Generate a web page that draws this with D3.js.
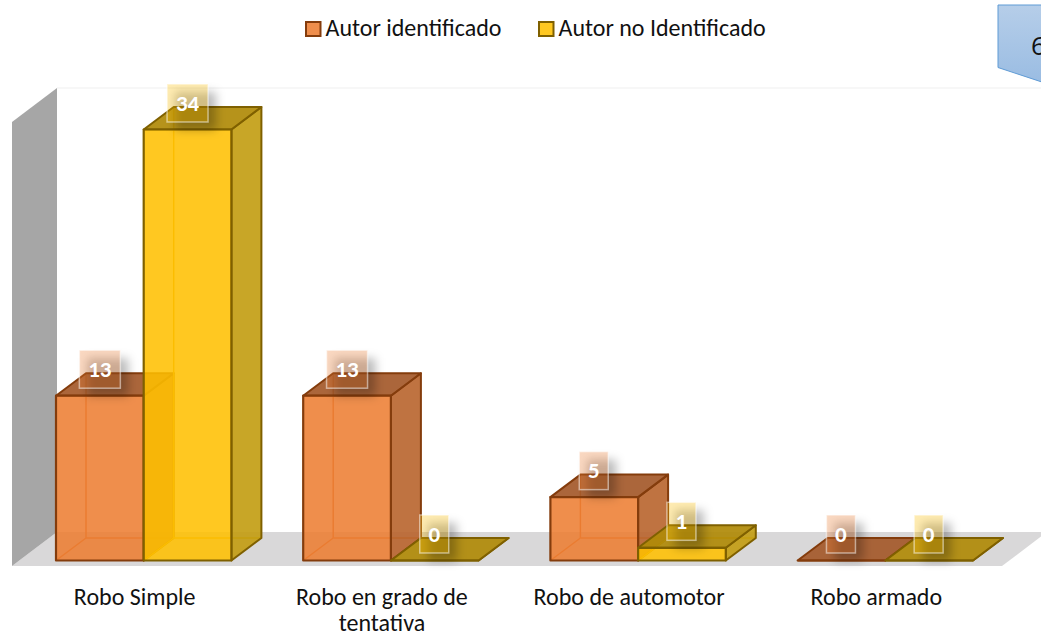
<!DOCTYPE html>
<html><head><meta charset="utf-8">
<script src="https://cdn.jsdelivr.net/npm/d3@7/dist/d3.min.js"></script>
<style>html,body{margin:0;padding:0;background:#fff;overflow:hidden}svg{display:block;font-family:Carlito,Lato,sans-serif}</style>
</head><body><svg id="c" width="1041" height="636"></svg>
<script>
const categories = ["Robo Simple","Robo en grado de tentativa","Robo de automotor","Robo armado"];
const seriesNames = ["Autor identificado","Autor no Identificado"];
const identificado = [13,13,5,0];
const noIdentificado = [34,0,1,0];
const seriesValues = [identificado, noIdentificado];
const palette = [
 {front:"#ed7d31",top:"#a4592a",side:"#b8642c",line:"#843c0c",hidden:"#d9702c",label:"#ed7d31"},
 {front:"#ffc000",top:"#b08a08",side:"#c29c10",line:"#7f6000",hidden:"#e0a800",label:"#ffc000"}
];
const W=1041,H=636, dx=30, dy=-22.5;
const svg=d3.select("#c");
const x0=d3.scaleBand().domain(categories).range([56,56+247.2*4]);
const x1=d3.scaleBand().domain(seriesNames).range([0,175.4]);
const y=d3.scaleLinear().domain([0,34]).range([560.5,129.5]);
const line=d3.line();
const defs=svg.append("defs");
defs.append("filter").attr("id","blur").attr("x","-60%").attr("y","-60%").attr("width","220%").attr("height","220%")
  .append("feGaussianBlur").attr("stdDeviation",5);
const grad=defs.append("linearGradient").attr("id","callout").attr("x1",0).attr("y1",0).attr("x2",0).attr("y2",1);
grad.append("stop").attr("offset","0%").attr("stop-color","#b6cee9");
grad.append("stop").attr("offset","100%").attr("stop-color","#98bbe2");

// callout
svg.append("path").attr("d",line([[998,5],[1060,5],[1060,88],[998,67.5]])+"Z")
  .attr("fill","url(#callout)").attr("stroke","#5f9bd5").attr("stroke-width",1);
svg.append("text").attr("x",1031).attr("y",55).attr("font-family","'Open Sans'").attr("font-size",26).attr("fill","#111").text("6");

// chart walls
const fy=y(0)+5.5, by=fy-34;
svg.append("path").attr("d",line([[57,88],[W,88]])).attr("stroke","#f5f5f5").attr("stroke-width",1.5).attr("fill","none");
svg.append("path").attr("d",line([[12,fy],[57,by],[1047,by],[1002,fy]])+"Z").attr("fill","#d9d8d9");
svg.append("path").attr("d",line([[12,122],[57,88],[57,by],[12,fy]])+"Z").attr("fill","#a6a6a6");

// bars
const bars=svg.append("g");
categories.forEach((c,ci)=>{
  seriesNames.forEach((s,si)=>{
    const v=seriesValues[si][ci], p=palette[si];
    const L=x0(c)+x1(s), R=L+x1.bandwidth(), B=y(0), T=y(v);
    const g=bars.append("g");
    const face=(pts,fill,op,stroke,sw)=>g.append("path").attr("d",line(pts)+(pts.length>2?"Z":""))
      .attr("fill",fill).attr("fill-opacity",op).attr("stroke",stroke).attr("stroke-width",sw).attr("stroke-linejoin","round");
    if(v>0){
      face([[L+dx,B+dy],[L+dx,T+dy]],"none",0,p.hidden,1.5);
      face([[L,B],[L+dx,B+dy]],"none",0,p.hidden,1.5);
      face([[L+dx,B+dy],[R+dx,B+dy]],"none",0,p.hidden,1.5);
    }
    face([[R,B],[R+dx,B+dy],[R+dx,T+dy],[R,T]],p.side,.9,p.line,2);
    face([[L,T],[L+dx,T+dy],[R+dx,T+dy],[R,T]],p.top,.92,p.line,2);
    if(v>0) face([[L,B],[R,B],[R,T],[L,T]],p.front,.87,p.line,2.2);
    else face([[L,B],[R,B]],"none",0,p.line,2.2);
  });
});

// data labels
const labels=svg.append("g");
const labelPos=(c,s,v)=>({cx:x0(c)+x1(s)+x1.bandwidth()/2-(v>9?0:0.5), cy:y(v)-26.5, w:String(v).length>1?41:29, h:38});
categories.forEach((c,ci)=>{
  seriesNames.forEach((s,si)=>{
    const v=seriesValues[si][ci], b=labelPos(c,s,v);
    labels.append("rect").attr("x",b.cx-b.w/2+8).attr("y",b.cy-b.h/2+8).attr("width",b.w).attr("height",b.h)
      .attr("fill","#000").attr("fill-opacity",.26).attr("filter","url(#blur)");
  });
});
categories.forEach((c,ci)=>{
  seriesNames.forEach((s,si)=>{
    const v=seriesValues[si][ci], p=palette[si], b=labelPos(c,s,v);
    labels.append("rect").attr("x",b.cx-b.w/2).attr("y",b.cy-b.h/2).attr("width",b.w).attr("height",b.h)
      .attr("fill",p.label).attr("fill-opacity",.3).attr("stroke","#fff").attr("stroke-opacity",.5).attr("stroke-width",1.5);
    labels.append("text").attr("x",b.cx).attr("y",b.cy+7.5).attr("text-anchor","middle")
      .attr("font-size",23).attr("font-weight",700).attr("fill","#fff").text(v);
  });
});

// category axis
const axisScale=x0.copy().range([56-9,56-9+247.2*4]);
const axis=svg.append("g").attr("transform",`translate(${-(x0.bandwidth()/2-x1.bandwidth())},590)`)
  .call(d3.axisBottom(axisScale).tickSize(0).tickPadding(0));
axis.attr("font-family",null).attr("font-size",null);
axis.select(".domain").remove();
axis.selectAll("text").attr("font-size",24).attr("fill","#111").attr("dy",0).attr("y",15)
  .each(function(d){
    const t=d3.select(this), words=d.split(" ");
    if(this.getComputedTextLength()<=230) return;
    t.text(null);
    let cur=[], ln=0, ts=t.append("tspan").attr("x",0).attr("y",15);
    words.forEach(w=>{
      cur.push(w); ts.text(cur.join(" "));
      if(ts.node().getComputedTextLength()>200){
        cur.pop(); ts.text(cur.join(" ")); cur=[w]; ln++;
        ts=t.append("tspan").attr("x",0).attr("y",15+ln*26).text(w);
      }
    });
  });

// legend
const legendX=d3.scaleOrdinal().domain(seriesNames).range([305,538]);
const leg=svg.append("g").selectAll("g").data(seriesNames).join("g")
  .attr("transform",d=>`translate(${legendX(d)},21)`);
leg.append("rect").attr("x",1).attr("y",1).attr("width",14.5).attr("height",14)
  .attr("fill",(d,i)=>palette[i].front).attr("fill-opacity",.87).attr("stroke",(d,i)=>palette[i].line).attr("stroke-width",2);
leg.append("text").attr("x",20.5).attr("y",14.5).attr("font-size",24).attr("fill","#111").text(d=>d);
</script></body></html>
